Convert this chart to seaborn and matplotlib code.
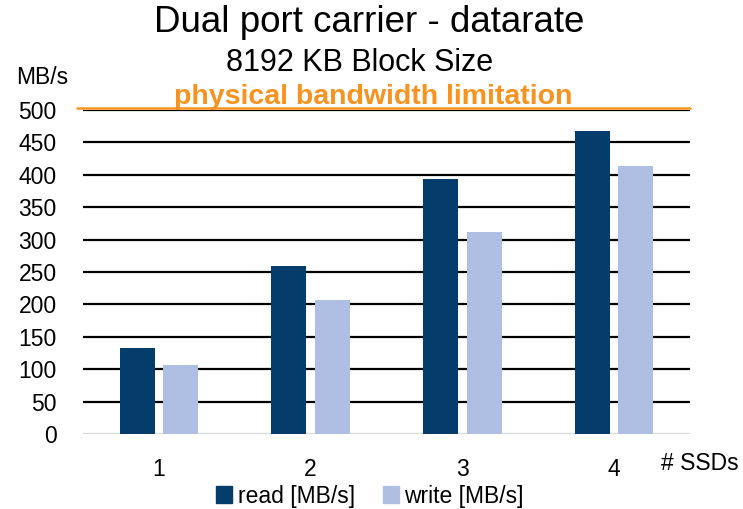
import matplotlib
matplotlib.use("Agg")
import matplotlib.pyplot as plt
import seaborn as sns
import pandas as pd
from matplotlib.patches import Patch

ssds = ["1", "2", "3", "4"]
read_mbs = [133, 260, 394, 467]
write_mbs = [106, 207, 312, 413]
series_labels = ["read [MB/s]", "write [MB/s]"]
y_ticks = [0, 50, 100, 150, 200, 250, 300, 350, 400, 450, 500]
limit_mbs = 500

colors = ["#043C6B", "#AFBFE4"]

df = pd.DataFrame({
    "SSDs": ssds * 2,
    "rate": read_mbs + write_mbs,
    "kind": [series_labels[0]] * 4 + [series_labels[1]] * 4,
})

sns.set_theme(style="white")
plt.rcParams["font.family"] = ["Liberation Sans", "DejaVu Sans"]
for key in ["text.color", "axes.labelcolor", "xtick.color", "ytick.color"]:
    plt.rcParams[key] = "black"

fig = plt.figure(figsize=(7.43, 5.09), dpi=100)
ax = fig.add_axes([83 / 743, 1 - 434 / 509, (690 - 83) / 743, (434 - 110) / 509])

for y in y_ticks[1:]:
    ax.axhline(y, color="black", lw=1.6, zorder=0)
ax.axhline(0, color="#D9D9D9", lw=1.6, zorder=0)

sns.barplot(data=df, x="SSDs", y="rate", hue="kind", palette=colors,
            saturation=1, width=0.573, gap=0.2, ax=ax, legend=False, zorder=3,
            edgecolor="none", linewidth=0)

ax.set_xlim(-0.5, 3.5)
ax.set_ylim(0, 500)
ax.set_yticks(y_ticks)
ax.set_yticklabels([str(v) for v in y_ticks], fontsize=16.5)
ax.tick_params(axis="x", labelsize=16.5, pad=17, length=0)
ax.tick_params(axis="y", length=0, pad=19)
ax.set_xlabel("")
ax.set_ylabel("")
for s in ax.spines.values():
    s.set_visible(False)

# bandwidth limit
ax.plot([-0.54, 3.5], [limit_mbs + 3, limit_mbs + 3], color="#F7931E", lw=1.8,
        clip_on=False, zorder=4)
ax.text(1.41, limit_mbs + 10, "physical bandwidth limitation", color="#F7931E",
        fontsize=20.5, fontweight="bold", ha="center", va="baseline", zorder=5)

fig.text(369 / 743, 1 - 23 / 509, "Dual port carrier - datarate", fontsize=26.5,
         ha="center", va="center")
fig.text(360 / 743, 1 - 63 / 509, "8192 KB Block Size", fontsize=22,
         ha="center", va="center")
fig.text(42 / 743, 1 - 78 / 509, "MB/s", fontsize=16.5, ha="center", va="center")
fig.text(700 / 743, 1 - 464 / 509, "# SSDs", fontsize=16.5, ha="center", va="center")

handles = [Patch(color=c, label=l) for c, l in zip(colors, series_labels)]
fig.legend(handles=handles, loc="center", bbox_to_anchor=(370 / 743, 1 - 496 / 509),
           ncol=2, frameon=False, fontsize=16.5, handlelength=0.7, handleheight=0.75,
           handletextpad=0.25, columnspacing=1.2)

fig.savefig("out.png", dpi=100)
